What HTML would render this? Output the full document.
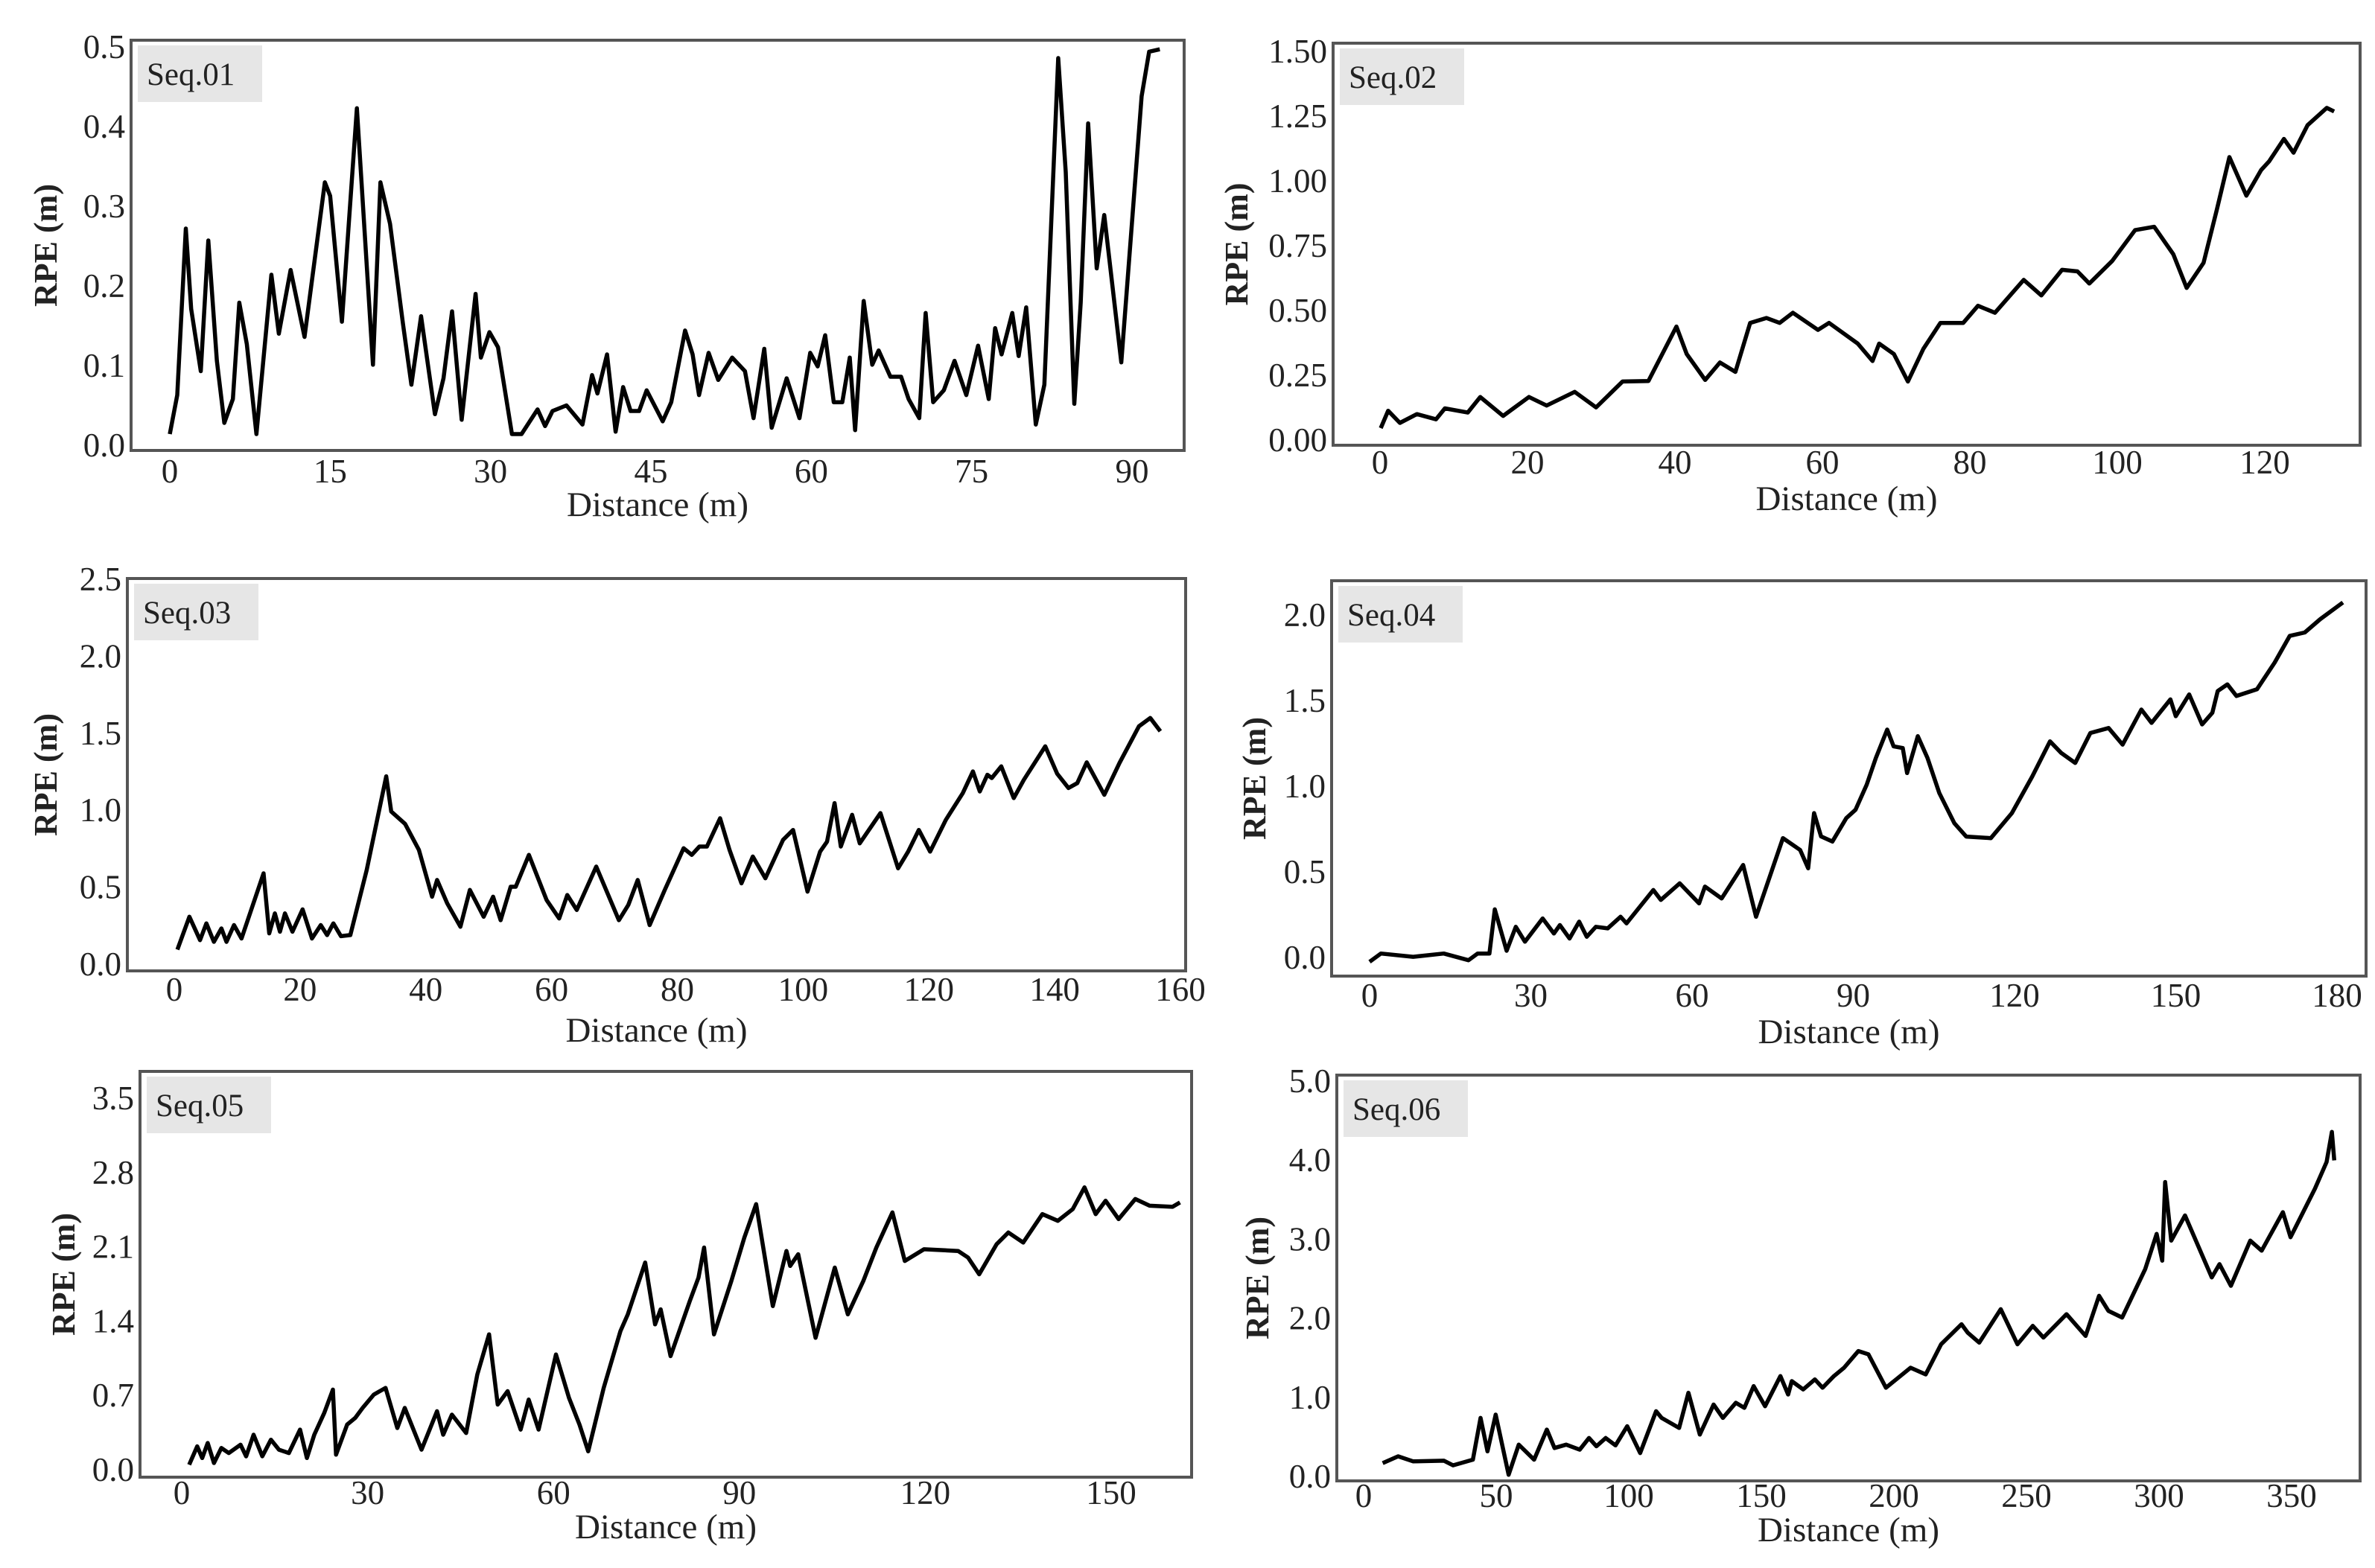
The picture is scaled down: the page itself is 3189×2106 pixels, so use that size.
<!DOCTYPE html>
<html><head><meta charset="utf-8"><style>
html,body{margin:0;padding:0;background:#fff;}
svg{display:block;}
text{font-family:"Liberation Serif",serif;fill:#222;}
</style></head><body>
<svg id="chart" width="3189" height="2106" viewBox="0 0 3189 2106" xmlns="http://www.w3.org/2000/svg"></svg>
<script>
const seq01X=[0,0.7,1.5,2.0,2.9,3.6,4.4,5.1,5.9,6.5,7.2,8.1,9.5,10.2,11.3,12.6,14.5,15,16.1,17.5,19,19.7,20.6,21.8,22.6,23.5,24.8,25.6,26.4,27.3,28.6,29.1,29.9,30.7,32,32.9,34.4,35.1,35.8,37.1,38.6,39.5,40,40.9,41.7,42.4,43.1,43.9,44.6,46.1,46.9,48.2,48.9,49.5,50.4,51.3,52.6,53.8,54.6,55.6,56.3,57.7,58.9,59.9,60.6,61.3,62.1,62.9,63.6,64.1,64.9,65.7,66.3,67.4,68.4,69.1,70.1,70.7,71.4,72.4,73.4,74.5,75.6,76.6,77.2,77.8,78.8,79.4,80.1,81,81.8,83.1,83.8,84.6,85.2,85.9,86.7,87.4,89,90.9,91.6,92.6];
const seq01Y=[0.014,0.063,0.272,0.171,0.093,0.257,0.106,0.028,0.058,0.179,0.127,0.014,0.214,0.140,0.220,0.136,0.330,0.313,0.155,0.423,0.101,0.330,0.278,0.153,0.076,0.162,0.039,0.084,0.168,0.032,0.190,0.110,0.142,0.123,0.014,0.014,0.045,0.024,0.043,0.050,0.026,0.088,0.065,0.114,0.017,0.073,0.043,0.043,0.069,0.030,0.054,0.144,0.114,0.063,0.116,0.082,0.110,0.093,0.034,0.121,0.022,0.084,0.034,0.116,0.099,0.138,0.054,0.054,0.110,0.019,0.181,0.101,0.119,0.086,0.086,0.058,0.034,0.166,0.054,0.069,0.106,0.063,0.125,0.058,0.147,0.114,0.166,0.112,0.173,0.026,0.076,0.486,0.343,0.052,0.179,0.404,0.222,0.289,0.104,0.438,0.494,0.497];
const seq02X=[0.1,1.1,2.7,5,7.6,8.8,11.9,13.6,16.7,20.2,22.6,26.4,29.3,32.9,36.4,40.2,41.6,44.1,46.1,48.2,50.2,52.4,54.2,56,59.4,60.9,64.8,66.8,67.7,69.7,71.6,73.7,76,79.1,81.1,83.4,87.3,89.7,92.5,94.6,96.2,99.3,102.4,105,107.6,109.4,111.7,113.5,115.2,117.5,119.5,120.6,122.6,123.9,125.8,128.4,129.4];
const seq02Y=[0.046,0.113,0.066,0.100,0.080,0.122,0.106,0.166,0.093,0.166,0.133,0.186,0.126,0.226,0.228,0.438,0.332,0.232,0.299,0.263,0.452,0.471,0.452,0.491,0.425,0.452,0.372,0.305,0.372,0.332,0.226,0.352,0.452,0.452,0.518,0.491,0.618,0.558,0.657,0.651,0.604,0.691,0.810,0.823,0.717,0.587,0.684,0.890,1.092,0.943,1.042,1.076,1.162,1.109,1.215,1.282,1.268];
const seq03X=[0.5,2.4,4.1,5.1,6.3,7.5,8.3,9.5,10.7,14.2,15.1,16,16.8,17.6,18.8,20.4,21.9,23.3,24.3,25.3,26.5,28,30.6,33.7,34.5,36.7,38.9,41,41.8,43.4,45.5,47,49.2,50.7,51.9,53.5,54.3,56.4,59.2,61.2,62.5,64,67.1,70.7,72.2,73.7,75.6,78,81,82.3,83.5,84.7,86.8,88.3,90.2,92,94,96.8,98.4,100.7,102.7,103.8,105,106,107.8,109,112.3,115.1,116.7,118.4,120.2,122.7,125.4,127,128.1,129.3,130,131.5,133.5,135.1,138.5,140.4,142.2,143.6,145.1,147.9,150.3,153.4,155.2,156.8];
const seq03Y=[0.095,0.308,0.156,0.265,0.145,0.232,0.145,0.254,0.167,0.590,0.200,0.330,0.211,0.330,0.211,0.356,0.167,0.254,0.189,0.265,0.182,0.189,0.612,1.220,0.992,0.911,0.742,0.438,0.547,0.395,0.243,0.482,0.308,0.438,0.286,0.503,0.503,0.710,0.417,0.297,0.449,0.352,0.634,0.286,0.384,0.547,0.254,0.482,0.753,0.710,0.764,0.764,0.948,0.742,0.525,0.699,0.558,0.807,0.872,0.471,0.731,0.796,1.046,0.764,0.970,0.785,0.981,0.623,0.731,0.872,0.731,0.937,1.111,1.252,1.122,1.230,1.209,1.285,1.079,1.198,1.415,1.237,1.144,1.176,1.311,1.100,1.306,1.545,1.599,1.513];
const seq04X=[0,2.1,8.1,13.8,18.4,20.1,22.3,23.3,25.5,27.2,28.9,32.2,34.3,35.4,37.2,39,40.4,42.1,44.3,46.7,47.8,52.8,54.2,57.7,61.3,62.4,65.5,69.5,71.9,76.9,80.1,81.6,82.7,84,86.1,88.7,90.4,92.5,94.2,96.3,97.5,99.2,100,102,103.8,106,108.8,111,115.6,119.5,123.3,126.6,128.7,131.3,134.1,137.5,140.1,143.6,145.5,149,150,152.5,154.9,156.8,157.8,159.6,161.3,165.1,168.4,171.2,174,176.9,181.1];
const seq04Y=[-0.025,0.023,0.004,0.023,-0.016,0.023,0.023,0.281,0.039,0.179,0.092,0.228,0.140,0.189,0.111,0.209,0.121,0.179,0.170,0.238,0.199,0.394,0.336,0.433,0.316,0.414,0.345,0.540,0.238,0.697,0.628,0.521,0.843,0.707,0.677,0.814,0.862,1.009,1.165,1.331,1.233,1.223,1.077,1.292,1.165,0.960,0.784,0.706,0.697,0.843,1.057,1.262,1.194,1.136,1.311,1.340,1.243,1.448,1.370,1.507,1.409,1.536,1.361,1.429,1.556,1.595,1.527,1.566,1.722,1.878,1.898,1.976,2.073];
const seq05X=[1.2,2.5,3.3,4.2,5.2,6.4,7.6,9.5,10.4,11.6,13,14.4,15.7,17.3,19.1,20.2,21.4,23,24.4,24.9,26.7,28,29.2,31,32.9,34.8,36,38.7,41.2,42.2,43.6,45.9,47.7,49.6,51,52.6,54.7,56,57.6,60.4,62.5,64.2,65.6,68.1,70.8,72,74.8,76.4,77.3,78.9,82,83.4,84.3,85.9,88.7,90.8,92.7,95.4,97.6,98.2,99.5,102.3,105.4,107.5,110,112.1,114.7,116.7,119.8,125.3,126.9,128.7,131.5,133.4,135.8,138.9,141.4,143.8,145.7,147.5,149.1,151.2,153.9,156.2,159.9,161.1];
const seq05Y=[0.047,0.220,0.110,0.252,0.063,0.205,0.157,0.236,0.126,0.330,0.126,0.283,0.189,0.157,0.378,0.110,0.330,0.535,0.755,0.142,0.425,0.488,0.582,0.708,0.771,0.393,0.582,0.189,0.551,0.330,0.519,0.346,0.897,1.275,0.614,0.740,0.378,0.661,0.378,1.086,0.677,0.425,0.173,0.771,1.306,1.464,1.952,1.369,1.511,1.070,1.589,1.810,2.093,1.275,1.778,2.188,2.502,1.542,2.061,1.920,2.030,1.243,1.904,1.464,1.778,2.093,2.424,1.967,2.077,2.061,1.999,1.841,2.124,2.235,2.140,2.408,2.345,2.455,2.660,2.408,2.534,2.361,2.550,2.487,2.477,2.518];
const seq06X=[7.2,13,18.7,30.3,33.7,41.2,44.1,46.7,49.8,54.7,58.5,64.3,69.1,72,76.4,81.5,85,87.8,91.3,95,99.4,104.3,110.3,112.4,119,122.5,126.8,132,135.5,140.4,143.6,147.1,151.4,157.2,160.1,161.5,165.8,170.2,173.1,177.4,181.2,186.6,190.4,197,206.3,212,217.8,225.5,227.8,232.2,240.3,246.6,252.4,256.4,265.1,272.3,277.4,280.9,286.1,294.8,299.1,301.2,302.3,304.6,309.8,319.9,322.8,327.1,334.4,338.7,346.7,349.6,358.8,363.2,365.2,366.1];
const seq06Y=[0.169,0.254,0.190,0.199,0.140,0.212,0.740,0.317,0.782,0.021,0.402,0.212,0.592,0.360,0.402,0.338,0.486,0.381,0.486,0.393,0.635,0.296,0.825,0.740,0.613,1.058,0.529,0.909,0.740,0.931,0.867,1.142,0.888,1.269,1.036,1.205,1.100,1.227,1.121,1.269,1.375,1.586,1.544,1.121,1.375,1.290,1.671,1.925,1.819,1.692,2.115,1.671,1.904,1.756,2.052,1.777,2.284,2.094,2.009,2.623,3.067,2.729,3.723,2.982,3.300,2.517,2.685,2.411,2.982,2.855,3.342,3.025,3.638,3.976,4.357,3.997];
const seq01XTicks=[0,15,30,45,60,75,90];
const seq01YTicks=["0.0","0.1","0.2","0.3","0.4","0.5"];
const seq02XTicks=[0,20,40,60,80,100,120];
const seq02YTicks=["0.00","0.25","0.50","0.75","1.00","1.25","1.50"];
const seq03XTicks=[0,20,40,60,80,100,120,140,160];
const seq03YTicks=["0.0","0.5","1.0","1.5","2.0","2.5"];
const seq04XTicks=[0,30,60,90,120,150,180];
const seq04YTicks=["0.0","0.5","1.0","1.5","2.0"];
const seq05XTicks=[0,30,60,90,120,150];
const seq05YTicks=["0.0","0.7","1.4","2.1","2.8","3.5"];
const seq06XTicks=[0,50,100,150,200,250,300,350];
const seq06YTicks=["0.0","1.0","2.0","3.0","4.0","5.0"];

const NS="http://www.w3.org/2000/svg";
const svg=document.getElementById('chart');
function mk(tag,attrs,parent){const e=document.createElementNS(NS,tag);for(const k in attrs)e.setAttribute(k,attrs[k]);parent.appendChild(e);return e;}

const panels=[
 {id:'seq01',label:'Seq.01',xs:seq01X,ys:seq01Y,xt:seq01XTicks,yt:seq01YTicks,f:[176,54,1590,605],xa:[0,228,90,1520],ya:[0,598,0.5,63],xl:648,tl:693,rx:61},
 {id:'seq02',label:'Seq.02',xs:seq02X,ys:seq02Y,xt:seq02XTicks,yt:seq02YTicks,f:[1790,58,3169,598],xa:[0,1853,120,3041],ya:[0,591,1.5,69],xl:636,tl:685,rx:1660},
 {id:'seq03',label:'Seq.03',xs:seq03X,ys:seq03Y,xt:seq03XTicks,yt:seq03YTicks,f:[171,777,1592,1304],xa:[0,234,160,1585],ya:[0,1295,2.5,778],xl:1344,tl:1399,rx:61},
 {id:'seq04',label:'Seq.04',xs:seq04X,ys:seq04Y,xt:seq04XTicks,yt:seq04YTicks,f:[1788,780,3177,1311],xa:[0,1839,180,3138],ya:[0,1286,2.0,826],xl:1352,tl:1401,rx:1684},
 {id:'seq05',label:'Seq.05',xs:seq05X,ys:seq05Y,xt:seq05XTicks,yt:seq05YTicks,f:[188,1439,1600,1984],xa:[0,244,150,1492],ya:[0,1974,3.5,1475],xl:2020,tl:2066,rx:85},
 {id:'seq06',label:'Seq.06',xs:seq06X,ys:seq06Y,xt:seq06XTicks,yt:seq06YTicks,f:[1795,1444,3169,1989],xa:[0,1831,350,3077],ya:[0,1983,5,1452],xl:2024,tl:2070,rx:1688}
];

panels.forEach(p=>{
  const g=mk('g',{},svg);
  
  
  const sx=v=>p.xa[1]+(v-p.xa[0])*(p.xa[3]-p.xa[1])/(p.xa[2]-p.xa[0]);
  const sy=v=>p.ya[1]+(v-p.ya[0])*(p.ya[3]-p.ya[1])/(p.ya[2]-p.ya[0]);
  const [l,t,r,b]=p.f;
  const frame=mk('rect',{x:l,y:t,width:r-l,height:b-t,fill:'#fff',stroke:'#555','stroke-width':4},g);
  
  
  const box=mk('rect',{x:l+9,y:t+7,width:167,height:76,fill:'#e6e6e6'},g);
  
  
  const st=mk('text',{x:l+21,y:t+60,'font-size':43},g);
  st.textContent=p.label;
  
  
  p.yt.forEach(s=>{
    const tx=mk('text',{x:l-8,y:sy(parseFloat(s))+15,'font-size':45,'text-anchor':'end'},g);
    tx.textContent=s;
    
    
  });
  p.xt.forEach(v=>{
    const tx=mk('text',{x:sx(v),y:p.xl,'font-size':45,'text-anchor':'middle'},g);
    tx.textContent=String(v);
    
    
  });
  const xt=mk('text',{x:(l+r)/2,y:p.tl,'font-size':47,'text-anchor':'middle'},g);
  xt.textContent='Distance (m)';
  
  
  const cy=(t+b)/2;
  const yt=mk('text',{x:p.rx,y:cy,'font-size':44,'text-anchor':'middle','font-weight':'bold',transform:'rotate(-90 '+p.rx+' '+cy+')',dy:15},g);
  yt.textContent='RPE (m)';
  
  
  let d='';
  p.xs.forEach((v,i)=>{d+=(i?'L':'M')+sx(v).toFixed(1)+' '+sy(p.ys[i]).toFixed(1);});
  const line=mk('path',{d:d,fill:'none',stroke:'#000','stroke-width':5.5,'stroke-linejoin':'round'},g);
  
  
});
</script>
</body></html>
